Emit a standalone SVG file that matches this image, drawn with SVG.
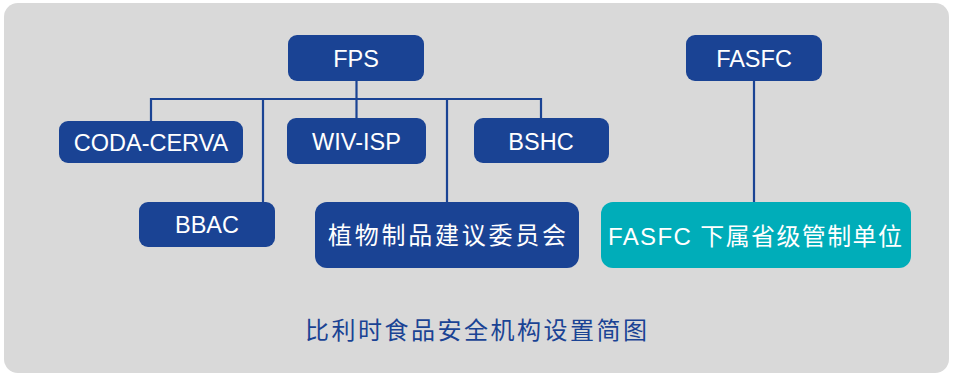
<svg xmlns="http://www.w3.org/2000/svg" width="953" height="375" viewBox="0 0 953 375">
<style>
.bg{fill:#d9d9d9}
.box{fill:#1a4394}
.teal{fill:#00adb9}
.lbl{font-family:"Liberation Sans","Noto Sans CJK SC",Arial,sans-serif;font-size:23.5px;fill:#ffffff;text-anchor:middle}
.cjk{font-family:"Liberation Sans","Noto Sans CJK SC",sans-serif;font-size:24px;fill:#ffffff;text-anchor:middle}
.cap{font-family:"Noto Sans CJK SC",sans-serif;font-size:24px;fill:#1a4394;text-anchor:middle}
.con{fill:none;stroke:#1a4394;stroke-width:2.2}
</style>
<rect class="bg" x="4" y="3" width="945" height="370" rx="14"/>
<g id="connectors">
<path class="con" d="M356.5 81 V118"/>
<path class="con" d="M151 121 V99 H541 V118"/>
<path class="con" d="M263 99 V202"/>
<path class="con" d="M447 99 V202"/>
<path class="con" d="M754 81 V202"/>
</g>
<g id="fps"><rect class="box" x="288" y="35" width="136" height="46" rx="9"/><text class="lbl" x="356" y="67">FPS</text></g>
<g id="coda"><rect class="box" x="59" y="121" width="184" height="42" rx="9"/><text class="lbl" x="151" y="151">CODA-CERVA</text></g>
<g id="wiv"><rect class="box" x="287" y="118" width="139" height="46" rx="9"/><text class="lbl" x="356.5" y="150">WIV-ISP</text></g>
<g id="bshc"><rect class="box" x="474" y="118" width="135" height="45" rx="9"/><text class="lbl" x="541" y="150">BSHC</text></g>
<g id="bbac"><rect class="box" x="139" y="202" width="136" height="45" rx="9"/><text class="lbl" x="207" y="233">BBAC</text></g>
<g id="plant"><rect class="box" x="315" y="202" width="264" height="66" rx="12"/><text class="cjk" x="447" y="244" textLength="238" lengthAdjust="spacing">植物制品建议委员会</text></g>
<g id="fasfc"><rect class="box" x="686" y="35" width="136" height="46" rx="9"/><text class="lbl" x="754" y="67">FASFC</text></g>
<g id="fasfc-sub"><rect class="teal" x="601" y="202" width="310" height="66" rx="12"/><text class="cjk" x="755" y="245" textLength="294" lengthAdjust="spacing">FASFC 下属省级管制单位</text></g>
<text class="cap" x="476" y="339" textLength="342" lengthAdjust="spacing">比利时食品安全机构设置简图</text>
</svg>
